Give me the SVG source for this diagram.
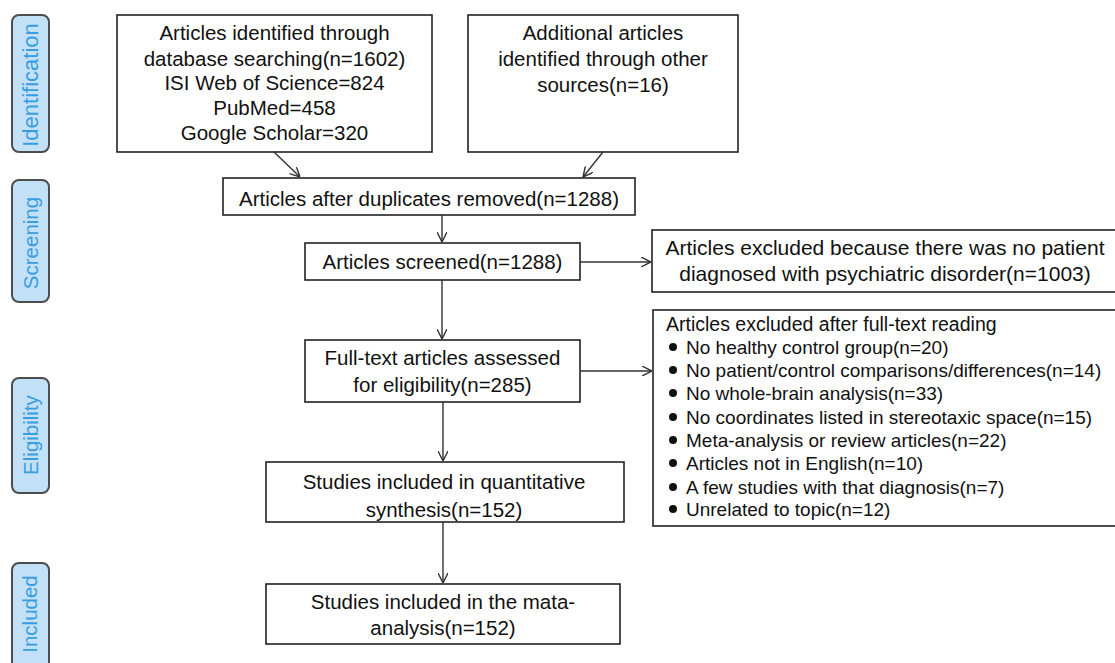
<svg xmlns="http://www.w3.org/2000/svg" width="1115" height="663" viewBox="0 0 1115 663">
<style>
.box{fill:#fff;stroke:#222;stroke-width:1.6}
.lab{fill:#c2e1f6;stroke:#4d4d4d;stroke-width:2}
.t{font-family:"Liberation Sans",Arial,sans-serif;font-size:20.5px;fill:#111;text-anchor:middle}
.tx{font-size:21px}
.tl{font-family:"Liberation Sans",Arial,sans-serif;font-size:19px;fill:#111}
.th{font-size:19.5px}
.st{font-family:"Liberation Sans",Arial,sans-serif;font-size:20.5px;fill:#3a9de0;text-anchor:middle}
.c{stroke:#333;stroke-width:1.4;fill:none}
.b{fill:#111}
</style>
<defs>
<marker id="ah" viewBox="0 0 10 10" refX="10" refY="5" markerWidth="10" markerHeight="10" markerUnits="userSpaceOnUse" orient="auto">
<path d="M0,0 L10,5 L0,10" fill="none" stroke="#333" stroke-width="1.4"/>
</marker>
</defs>
<rect width="1115" height="663" fill="#fff"/>
<g id="stage-identification"><rect class="lab" x="12" y="15" width="37" height="137" rx="7"/><text class="st" style="font-size:22px" transform="translate(38,85) rotate(-90)">Identification</text></g>
<g id="stage-screening"><rect class="lab" x="12" y="180" width="37" height="122" rx="7"/><text class="st" transform="translate(38,243) rotate(-90)">Screening</text></g>
<g id="stage-eligibility"><rect class="lab" x="12" y="378" width="37" height="115" rx="7"/><text class="st" transform="translate(38,435) rotate(-90)">Eligibility</text></g>
<g id="stage-included"><rect class="lab" x="12" y="563" width="37" height="110" rx="7"/><text class="st" transform="translate(37,614) rotate(-90)">Included</text></g>

<g id="n-database"><rect class="box" x="117" y="15" width="315" height="137"/>
<text class="t" x="274.5" y="40">Articles identified through</text>
<text class="t" x="274.5" y="66">database searching(n=1602)</text>
<text class="t" x="274.5" y="90">ISI Web of Science=824</text>
<text class="t" x="274.5" y="115">PubMed=458</text>
<text class="t" x="274.5" y="140">Google Scholar=320</text></g>
<g id="n-other"><rect class="box" x="468" y="15" width="270" height="137"/>
<text class="t" x="603" y="40">Additional articles</text>
<text class="t" x="603" y="66">identified through other</text>
<text class="t" x="603" y="92">sources(n=16)</text></g>
<g id="n-dup"><rect class="box" x="223" y="178" width="412" height="37"/>
<text class="t" x="429" y="206">Articles after duplicates removed(n=1288)</text></g>
<g id="n-screened"><rect class="box" x="305" y="243" width="275" height="37"/>
<text class="t" x="442.5" y="269">Articles screened(n=1288)</text></g>
<g id="n-excl1"><rect class="box" x="652" y="230" width="470" height="62"/>
<text class="t tx" x="885" y="255">Articles excluded because there was no patient</text>
<text class="t tx" x="885" y="281">diagnosed with psychiatric disorder(n=1003)</text></g>
<g id="n-fulltext"><rect class="box" x="305" y="340" width="275" height="62"/>
<text class="t" x="442.5" y="365">Full-text articles assessed</text>
<text class="t" x="442.5" y="392">for eligibility(n=285)</text></g>
<g id="n-excl2"><rect class="box" x="653" y="310" width="470" height="216"/>
<text class="tl th" x="666" y="331">Articles excluded after full-text reading</text>
<g>
<circle class="b" cx="673" cy="347" r="4"/><text class="tl" x="686" y="354">No healthy control group(n=20)</text>
<circle class="b" cx="673" cy="370" r="4"/><text class="tl" x="686" y="377">No patient/control comparisons/differences(n=14)</text>
<circle class="b" cx="673" cy="393" r="4"/><text class="tl" x="686" y="400">No whole-brain analysis(n=33)</text>
<circle class="b" cx="673" cy="417" r="4"/><text class="tl" x="686" y="424">No coordinates listed in stereotaxic space(n=15)</text>
<circle class="b" cx="673" cy="440" r="4"/><text class="tl" x="686" y="447">Meta-analysis or review articles(n=22)</text>
<circle class="b" cx="673" cy="463" r="4"/><text class="tl" x="686" y="470">Articles not in English(n=10)</text>
<circle class="b" cx="673" cy="487" r="4"/><text class="tl" x="686" y="494">A few studies with that diagnosis(n=7)</text>
<circle class="b" cx="673" cy="509" r="4"/><text class="tl" x="686" y="516">Unrelated to topic(n=12)</text>
</g></g>
<g id="n-quant"><rect class="box" x="266" y="462" width="358" height="60"/>
<text class="t" x="444" y="489">Studies included in quantitative</text>
<text class="t" x="444" y="517">synthesis(n=152)</text></g>
<g id="n-meta"><rect class="box" x="266" y="584" width="354" height="60"/>
<text class="t" x="443" y="609">Studies included in the mata-</text>
<text class="t" x="443" y="635">analysis(n=152)</text></g>

<g id="connectors">
<line class="c" x1="274" y1="152" x2="300" y2="177" marker-end="url(#ah)"/>
<line class="c" x1="603" y1="152" x2="583" y2="177" marker-end="url(#ah)"/>
<line class="c" x1="442" y1="215" x2="442" y2="242" marker-end="url(#ah)"/>
<line class="c" x1="442" y1="280" x2="442" y2="339" marker-end="url(#ah)"/>
<line class="c" x1="443" y1="402" x2="443" y2="461" marker-end="url(#ah)"/>
<line class="c" x1="443" y1="522" x2="443" y2="583" marker-end="url(#ah)"/>
<line class="c" x1="580" y1="262" x2="651" y2="262" marker-end="url(#ah)"/>
<line class="c" x1="580" y1="371" x2="652" y2="371" marker-end="url(#ah)"/>
</g>
</svg>
